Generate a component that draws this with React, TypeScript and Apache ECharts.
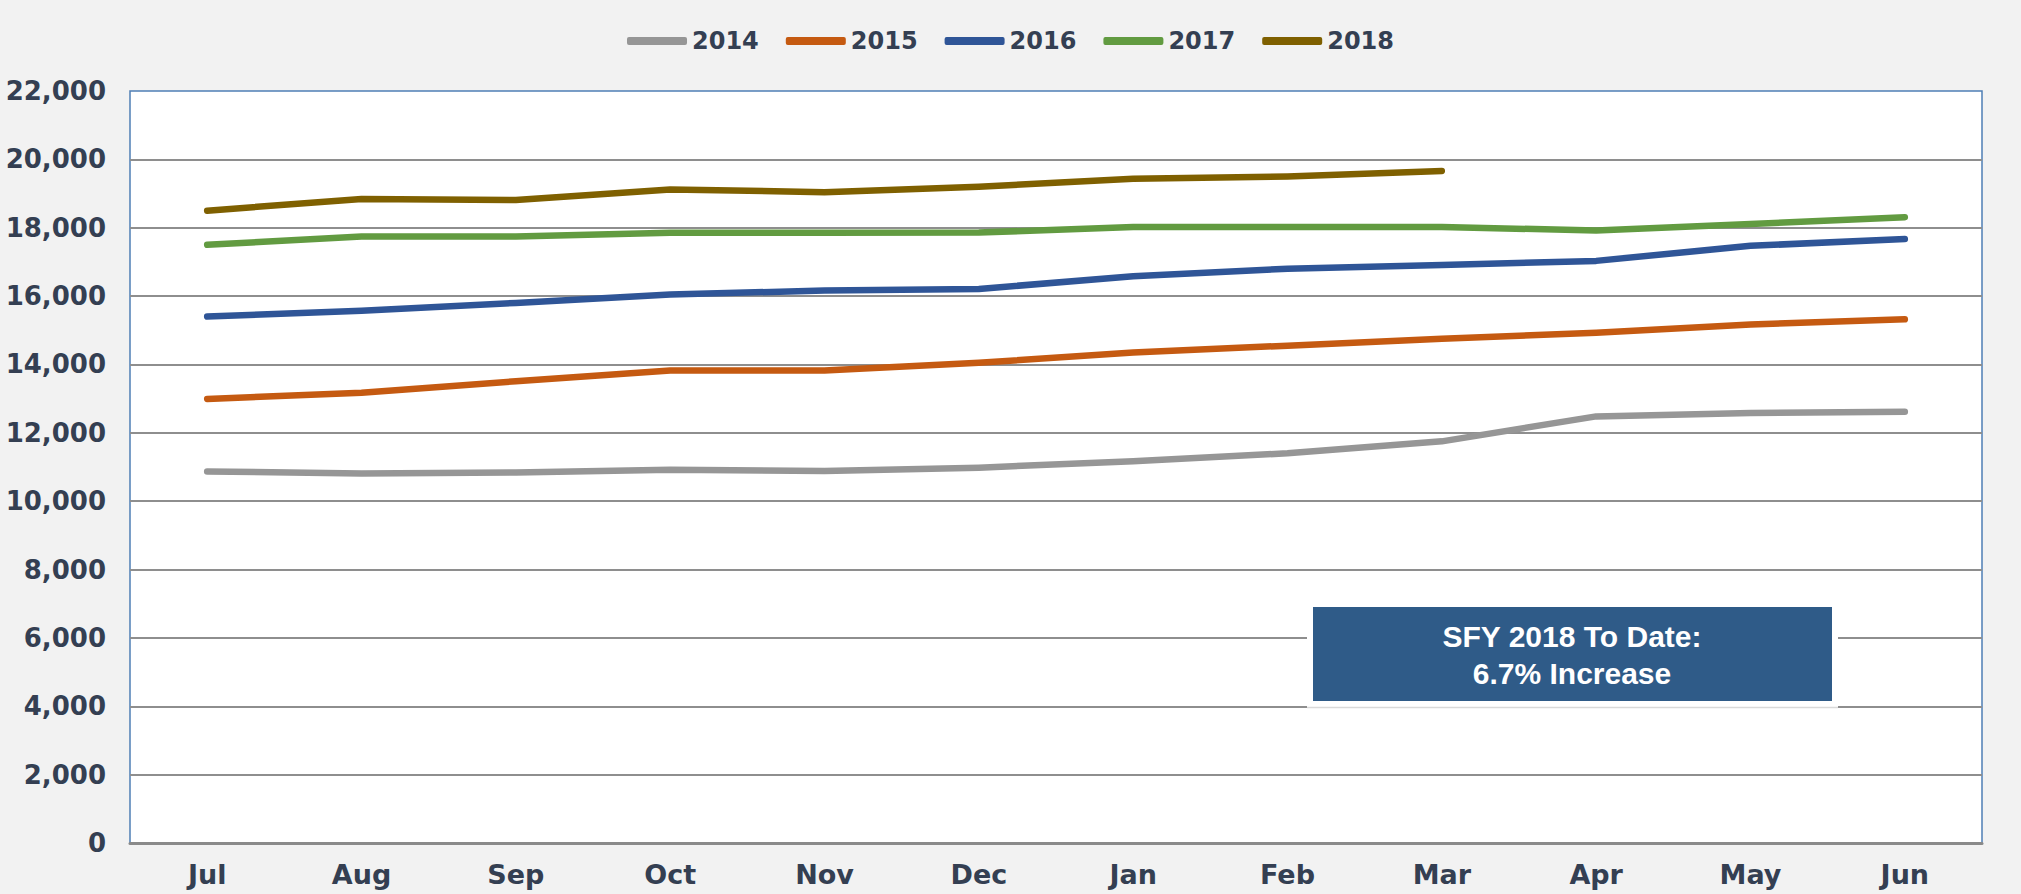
import React, { useEffect, useRef } from "react";
import * as echarts from "echarts";

const months = ["Jul", "Aug", "Sep", "Oct", "Nov", "Dec", "Jan", "Feb", "Mar", "Apr", "May", "Jun"];
const years = ["2014", "2015", "2016", "2017", "2018"];
const sfy2014 = [10870, 10810, 10840, 10920, 10880, 10980, 11170, 11400, 11750, 12480, 12580, 12620];
const sfy2015 = [12990, 13170, 13510, 13820, 13820, 14050, 14350, 14550, 14750, 14930, 15170, 15320];
const sfy2016 = [15400, 15570, 15800, 16050, 16160, 16210, 16580, 16800, 16910, 17030, 17470, 17670];
const sfy2017 = [17500, 17740, 17740, 17850, 17850, 17860, 18020, 18020, 18020, 17920, 18110, 18310];
const sfy2018 = [18500, 18840, 18810, 19120, 19040, 19200, 19430, 19500, 19660];
const seriesValues = [sfy2014, sfy2015, sfy2016, sfy2017, sfy2018];
const lineColors = ["#969696", "#c55a11", "#2f5597", "#629b41", "#7f6000"];
const yMin = 0;
const yMax = 22000;
const yStep = 2000;
const annotationLines = ["SFY 2018 To Date:", "6.7% Increase"];

const FONT = "DejaVu Sans";
const TEXT_COLOR = "#343f52";

export default function App() {
  const ref = useRef<HTMLDivElement>(null);

  useEffect(() => {
    if (!ref.current) return;
    const chart = echarts.init(ref.current, null, { renderer: "svg" });
    chart.setOption({
      animation: false,
      backgroundColor: "#f2f2f2",
      legend: {
        top: 24,
        left: "center",
        data: years,
        icon: "roundRect",
        itemWidth: 60,
        itemHeight: 8,
        itemGap: 27,
        textStyle: { fontFamily: FONT, fontWeight: "bold", fontSize: 24, color: TEXT_COLOR },
      },
      grid: {
        left: 130,
        right: 39,
        top: 91,
        bottom: 51,
        show: true,
        backgroundColor: "#ffffff",
        borderColor: "#4f7fb5",
        borderWidth: 1.5,
        containLabel: false,
      },
      xAxis: {
        type: "category",
        data: months,
        boundaryGap: true,
        axisLine: { show: true, lineStyle: { color: "#8a8a8a", width: 3 } },
        axisTick: { show: false },
        axisLabel: {
          fontFamily: FONT,
          fontWeight: "bold",
          fontSize: 27,
          color: TEXT_COLOR,
          margin: 18,
        },
      },
      yAxis: {
        type: "value",
        min: yMin,
        max: yMax,
        interval: yStep,
        axisLine: { show: false },
        axisTick: { show: false },
        splitLine: {
          show: true,
          showMaxLine: false,
          showMinLine: false,
          lineStyle: { color: "#8e8e8e", width: 2 },
        },
        axisLabel: {
          fontFamily: FONT,
          fontWeight: "bold",
          fontSize: 26,
          color: TEXT_COLOR,
          margin: 24,
          formatter: (v: number) => v.toLocaleString("en-US"),
        },
      },
      series: years.map((y, i) => ({
        name: y,
        type: "line",
        data: seriesValues[i],
        showSymbol: false,
        symbol: "none",
        lineStyle: { color: lineColors[i], width: 6.5, cap: "round", join: "round" },
        itemStyle: { color: lineColors[i] },
        z: 3,
      })),
      graphic: [
        {
          type: "group",
          z: 100,
          children: [
            {
              type: "rect",
              shape: { x: 1310, y: 604, width: 525, height: 100 },
              style: { fill: "#2f5b88", stroke: "#ffffff", lineWidth: 6 },
              z: 100,
            },
            {
              type: "line",
              shape: { x1: 1307, y1: 707.5, x2: 1838, y2: 707.5 },
              style: { stroke: "#d9d9d9", lineWidth: 1.5 },
              z: 100,
            },
            {
              type: "text",
              x: 1572,
              y: 655,
              z: 101,
              style: {
                text: annotationLines.join("\n"),
                fill: "#ffffff",
                font: "bold 30px 'Liberation Sans', Arial, sans-serif",
                lineHeight: 37,
                align: "center",
                verticalAlign: "middle",
              },
            },
          ],
        },
      ],
    });
    return () => chart.dispose();
  }, []);

  return (
    <div
      ref={ref}
      style={{ position: "fixed", left: 0, top: 0, width: 2021, height: 894 }}
    />
  );
}
